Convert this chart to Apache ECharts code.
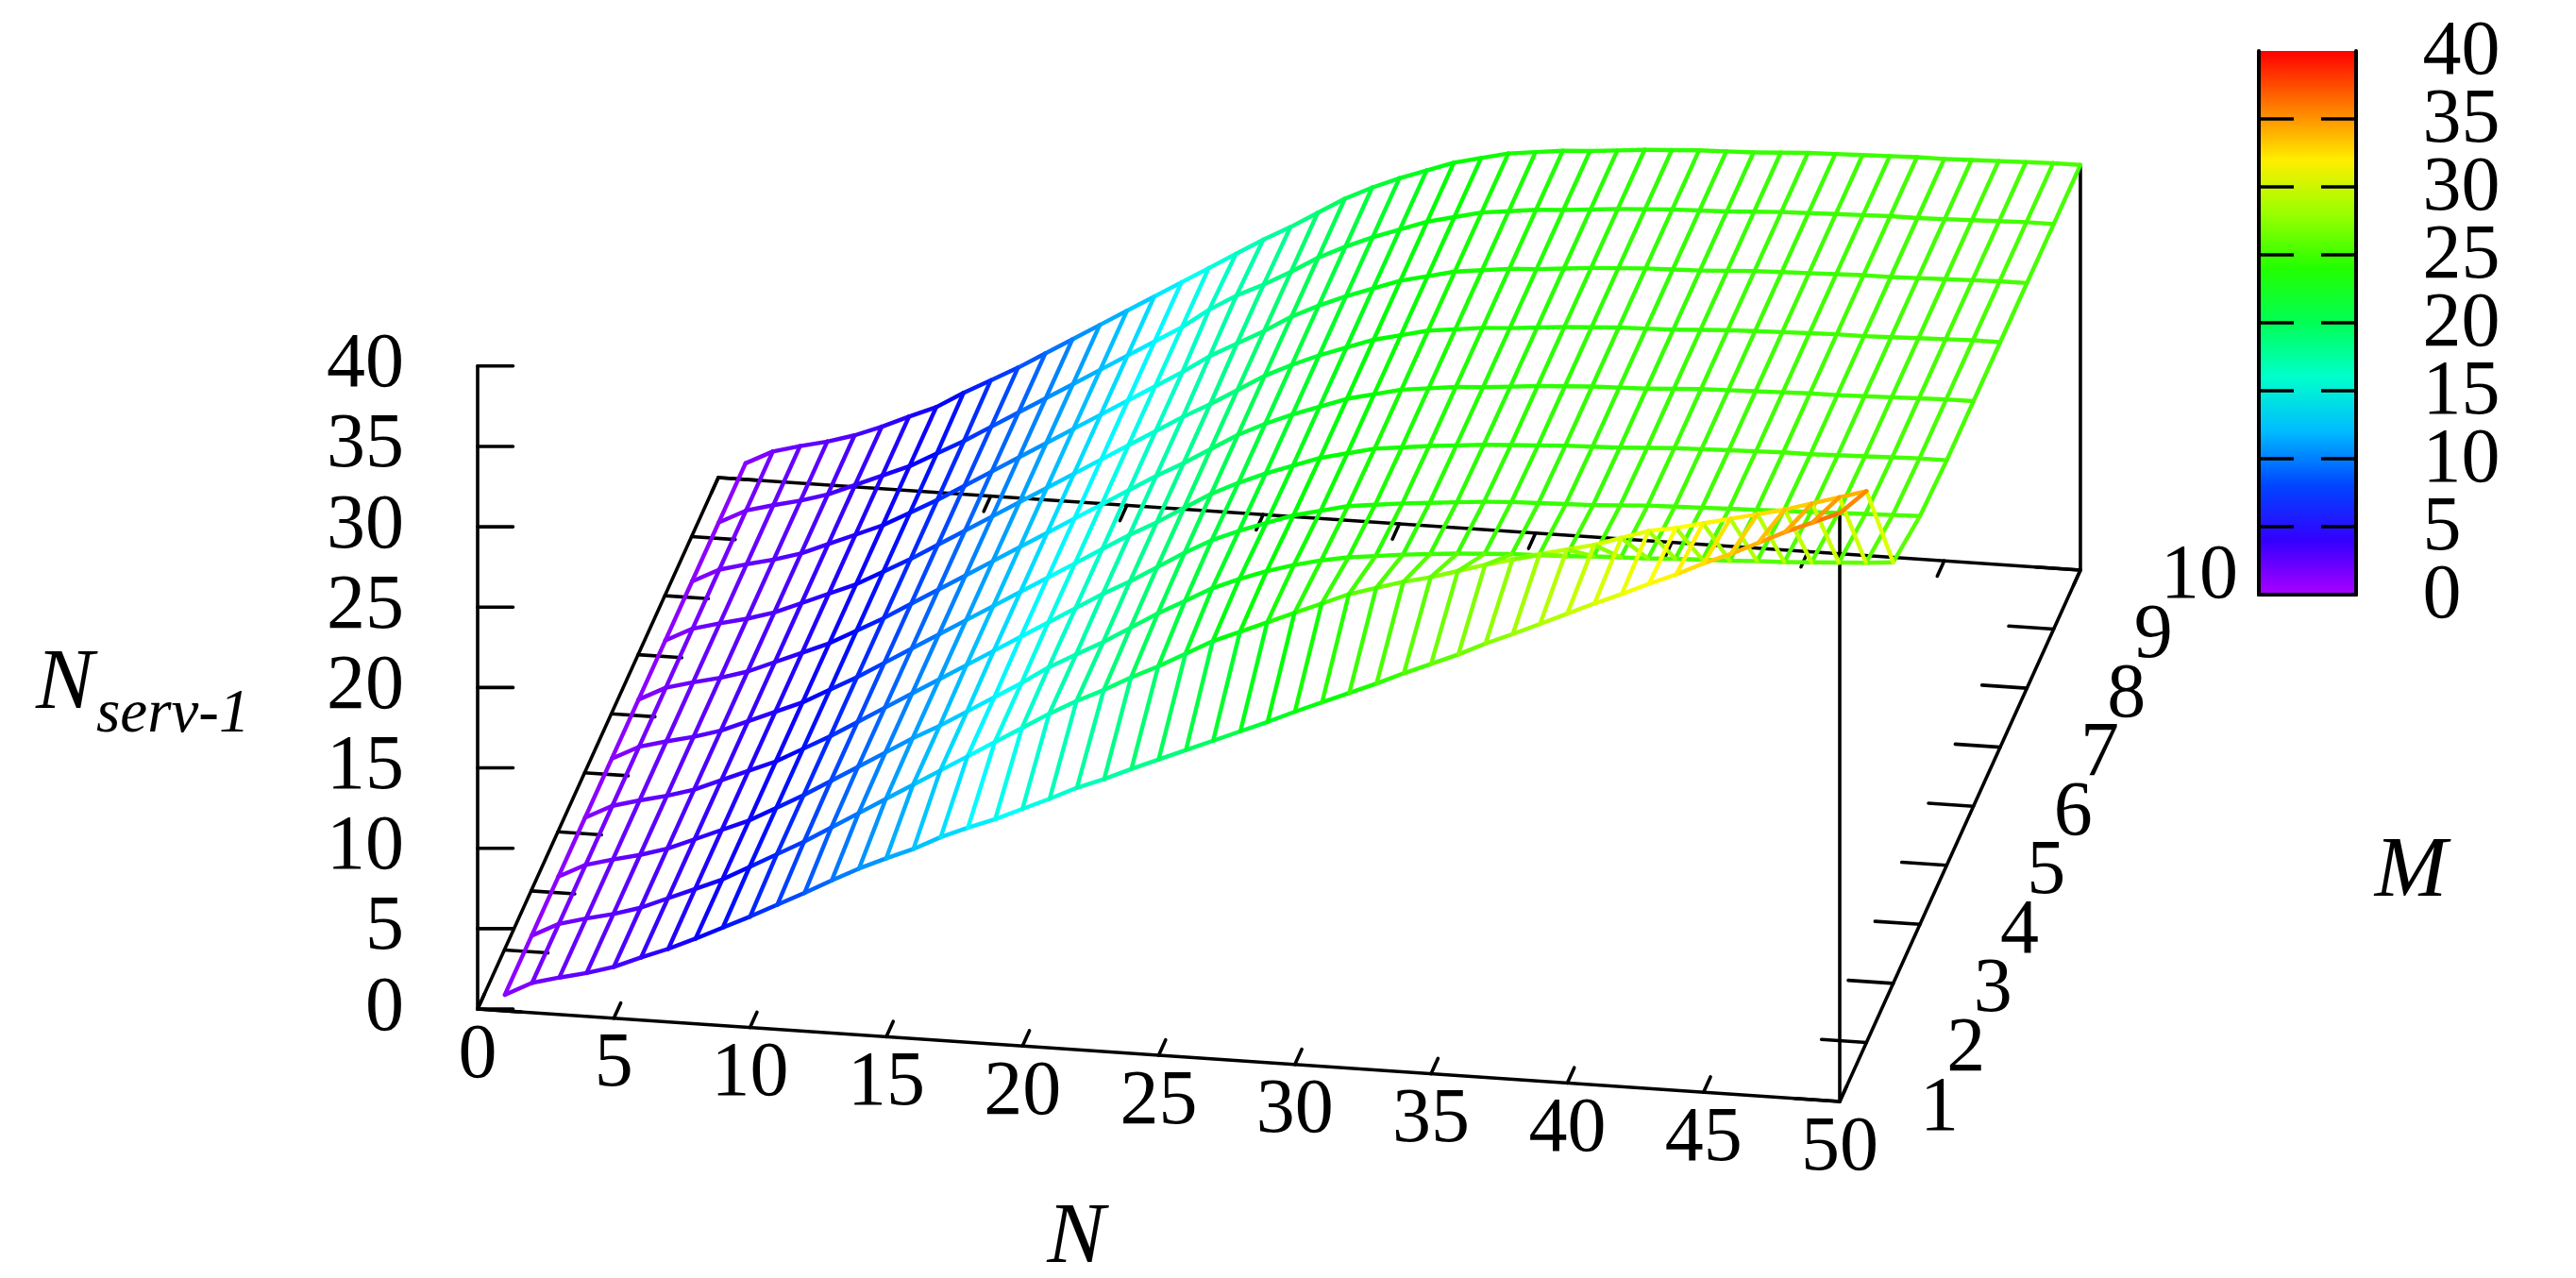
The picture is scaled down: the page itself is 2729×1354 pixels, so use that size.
<!DOCTYPE html>
<html><head><meta charset="utf-8">
<style>html,body{margin:0;padding:0;background:#fff}#c{width:2729px;height:1354px}</style>
<script src="https://cdn.jsdelivr.net/npm/echarts@6/dist/echarts.min.js"></script>
</head><body><div id="c"></div>
<script>
const nTicks = [0,5,10,15,20,25,30,35,40,45,50];
const mTicks = [1,2,3,4,5,6,7,8,9,10];
const zTicks = [0,5,10,15,20,25,30,35,40];
const colorbarTicks = [0,5,10,15,20,25,30,35,40];
const colorbarInnerTicks = [5,10,15,20,25,30,35];
const nValues = [1,2,3,4,5,6,7,8,9,10,11,12,13,14,15,16,17,18,19,20,21,22,23,24,25,26,27,28,29,30,31,32,33,34,35,36,37,38,39,40,41,42,43,44,45,46,47,48,49,50];
const rowM1  = [1.0,1.86,2.3,2.7,3.2,3.9,4.55,5.3,6.1,6.9,7.75,8.6,9.5,10.35,11.1,11.8,12.65,13.35,14.0,14.75,15.5,16.3,16.95,17.7,18.4,19.1,19.8,20.5,21.2,21.95,22.65,23.35,24.05,24.8,25.5,26.2,27.0,27.7,28.45,29.2,29.95,30.65,31.4,32.1,32.9,33.6,34.4,35.2,35.9,36.6];
const rowM2  = [1.0,1.85,2.3,2.7,3.2,3.9,4.6,5.3,6.2,7.1,8.0,9.0,10.0,11.0,12.0,13.0,14.0,15.0,16.0,17.0,17.9,18.7,19.6,20.4,21.3,22.2,22.9,23.6,24.3,25.0,25.7,26.2,26.7,27.1,27.6,28.1,28.55,29.0,29.4,29.8,30.35,30.9,31.2,31.6,32.0,32.4,32.8,33.3,33.8,34.3];
const rowM3  = [1.0,1.85,2.3,2.7,3.2,3.9,4.6,5.3,6.2,7.1,8.1,9.1,10.1,11.1,12.0,13.0,14.0,15.0,16.1,17.0,17.9,18.9,19.9,20.8,21.7,22.4,23.0,23.5,23.9,24.2,24.4,24.6,24.75,24.9,25.0,25.1,25.15,25.2,25.3,25.35,25.4,25.5,25.55,25.6,25.7,25.75,25.85,25.95,26.05,26.2];
const rowM4  = [1.0,1.85,2.3,2.7,3.2,3.9,4.6,5.3,6.2,7.1,8.1,9.1,10.1,11.1,12.1,13.1,14.1,15.1,16.1,17.1,18.0,19.0,20.0,20.9,21.6,22.2,22.8,23.2,23.6,23.8,24.0,24.15,24.3,24.45,24.55,24.6,24.65,24.7,24.8,24.9,24.95,25.0,25.05,25.1,25.15,25.2,25.25,25.3,25.35,25.4];
const rowM5  = [1.0,1.85,2.3,2.7,3.2,3.9,4.6,5.3,6.2,7.1,8.1,9.1,10.1,11.1,12.1,13.1,14.1,15.1,16.1,17.1,18.0,19.0,20.0,20.8,21.5,22.1,22.7,23.1,23.5,23.7,23.9,24.05,24.2,24.3,24.4,24.5,24.55,24.6,24.7,24.8,24.85,24.9,24.95,25.0,25.0,25.05,25.1,25.15,25.2,25.2];
const rowM6  = [1.0,1.85,2.3,2.7,3.2,3.9,4.6,5.3,6.2,7.1,8.1,9.1,10.1,11.1,12.1,13.1,14.1,15.1,16.1,17.1,18.0,19.0,20.0,20.8,21.5,22.1,22.7,23.1,23.5,23.7,23.9,24.0,24.15,24.3,24.4,24.5,24.55,24.6,24.7,24.8,24.85,24.9,24.95,25.0,25.0,25.05,25.1,25.15,25.2,25.2];
const rowM7  = [1.0,1.85,2.3,2.7,3.2,3.9,4.6,5.3,6.2,7.1,8.1,9.1,10.1,11.1,12.1,13.1,14.1,15.1,16.1,17.1,18.0,19.0,20.0,20.8,21.5,22.1,22.7,23.1,23.5,23.7,23.9,24.0,24.15,24.3,24.4,24.5,24.55,24.6,24.7,24.8,24.85,24.9,24.95,25.0,25.0,25.05,25.1,25.15,25.2,25.2];
const rowM8  = [1.0,1.85,2.3,2.7,3.2,3.9,4.6,5.3,6.2,7.1,8.1,9.1,10.1,11.1,12.1,13.1,14.1,15.1,16.1,17.2,18.1,19.0,20.0,20.8,21.5,22.1,22.7,23.1,23.5,23.7,23.9,24.0,24.15,24.3,24.4,24.5,24.55,24.6,24.7,24.8,24.85,24.9,24.95,25.0,25.0,25.05,25.1,25.15,25.2,25.2];
const rowM9  = [1.0,1.85,2.3,2.7,3.2,3.9,4.6,5.3,6.2,7.1,8.1,9.1,10.1,11.1,12.1,13.1,14.1,15.1,16.3,17.3,18.1,19.0,20.0,20.8,21.5,22.1,22.7,23.1,23.5,23.7,23.9,24.0,24.15,24.3,24.4,24.5,24.55,24.6,24.7,24.8,24.85,24.9,24.95,25.0,25.0,25.05,25.1,25.15,25.2,25.2];
const rowM10 = [1.0,1.85,2.3,2.7,3.2,3.85,4.6,5.3,6.3,7.2,8.1,9.1,10.1,11.1,12.1,13.1,14.1,15.1,16.1,17.1,18.0,19.0,20.0,20.8,21.5,22.1,22.7,23.1,23.5,23.7,23.9,24.0,24.15,24.3,24.4,24.5,24.55,24.6,24.7,24.8,24.85,24.9,24.95,25.0,25.0,25.05,25.1,25.15,25.2,25.2];
const rows = [rowM1,rowM2,rowM3,rowM4,rowM5,rowM6,rowM7,rowM8,rowM9,rowM10];

// View projection of the plot box (N, M, z) on the page plane
function project(n, m, z) {
  return [506 + 28.86*n + 28.33*(m-1), 1069 + 1.96*n - 62.56*(m-1) - 17.03*z];
}
function hue2rgb(h){ // h in degrees, full saturation
  const f=(n)=>{const k=(n+h/60)%6;return Math.round(255*(1-Math.max(0,Math.min(k,4-k,1))));};
  return 'rgb('+f(5)+','+f(3)+','+f(1)+')';
}
const zColor = z => hue2rgb(280*(1-z/40));

// mesh segments
const meshData = [];
for (let mi=rows.length-1; mi>=0; mi--) {
  const m = mTicks[mi], row = rows[mi];
  nValues.forEach((n,i)=>{
    if (i<nValues.length-1) meshData.push([n,m,row[i],nValues[i+1],m,row[i+1]]);
    if (mi<rows.length-1) meshData.push([n,m,row[i],n,mTicks[mi+1],rows[mi+1][i]]);
  });
}
// box lines & ticks [n1,m1,z1,n2,m2,z2]
const boxData = [
  [0,1,0,50,1,0],[50,1,0,50,10,0],[0,1,0,0,10,0],[0,10,0,50,10,0],
  [0,1,0,0,1,40],[50,1,0,50,1,rowM1[49]],[50,10,0,50,10,rowM10[49]]
];
nTicks.forEach(n=>{ boxData.push([n,1,0,n,1.26,0]); boxData.push([n,10,0,n,9.74,0]); });
mTicks.forEach(m=>{ boxData.push([0,m,0,1.6,m,0]); boxData.push([50,m,0,48.35,m,0]); });
zTicks.forEach(z=>{ boxData.push([0,1,z,1.3,1,z+0.15]); });

function segItem(color,width){
  return function(params,api){
    const a=api.coord(project(api.value(0),api.value(1),api.value(2)));
    const b=api.coord(project(api.value(3),api.value(4),api.value(5)));
    const c = color || zColor((api.value(2)+api.value(5))/2);
    return {type:'line',shape:{x1:a[0],y1:a[1],x2:b[0],y2:b[1]},
      style:{stroke:c,lineWidth:width,lineCap:'round'}};
  };
}
const FONT='"Liberation Serif","Times New Roman",serif', FS=82, IFS=92;
function labelItem(dx,dy,align){
  return function(params,api){
    const p=api.coord(project(api.value(0),api.value(1),api.value(2)));
    return {type:'text',x:p[0]+dx,y:p[1]+dy,
      style:{text:String(api.value(3)),font:FS+'px '+FONT,fill:'#000',textAlign:align,textVerticalAlign:'middle'}};
  };
}
function colorbarLabel(params,api){
  const p=api.coord([0,api.value(0)]);
  return {type:'text',x:p[0]+122,y:p[1]+2,
    style:{text:String(api.value(0)),font:FS+'px '+FONT,fill:'#000',textAlign:'left',textVerticalAlign:'middle'}};
}
const stops=[];
[0,0.1,0.2,0.3,0.4,0.5,0.6,0.7,0.8,0.9,1].forEach(f=>stops.push({offset:f,color:zColor(40*(1-f))}));

const chart=echarts.init(document.getElementById('c'),null,{renderer:'canvas',width:2729,height:1354});
const ink={color:'#000',width:4};
const cbTick={show:true,inside:true,length:37,customValues:colorbarInnerTicks,lineStyle:{color:'#000',width:3.5}};
chart.setOption({
  animation:false,
  backgroundColor:'#fff',
  grid:[{left:0,top:0,width:2729,height:1354},{left:2393,top:54,width:103,height:576}],
  xAxis:[
    {gridIndex:0,type:'value',min:0,max:2729,show:false},
    {gridIndex:1,type:'category',data:['bar'],position:'bottom',z:10,axisLine:{lineStyle:ink},axisTick:{show:false},axisLabel:{show:false}},
    {gridIndex:1,type:'category',data:['bar'],position:'top',z:10,axisLine:{lineStyle:ink},axisTick:{show:false},axisLabel:{show:false}}
  ],
  yAxis:[
    {gridIndex:0,type:'value',min:0,max:1354,inverse:true,show:false},
    {gridIndex:1,type:'value',min:0,max:40,interval:5,position:'right',z:10,splitLine:{show:false},
     axisLine:{show:true,lineStyle:ink},axisTick:cbTick,axisLabel:{show:false}},
    {gridIndex:1,type:'value',min:0,max:40,interval:5,position:'left',z:10,splitLine:{show:false},
     axisLine:{show:true,lineStyle:ink},axisTick:cbTick,axisLabel:{show:false}}
  ],
  series:[
    {type:'bar',xAxisIndex:1,yAxisIndex:1,data:[colorbarTicks[colorbarTicks.length-1]],barWidth:'100%',silent:true,
     itemStyle:{color:new echarts.graphic.LinearGradient(0,0,0,1,stops)}},
    {type:'custom',coordinateSystem:'cartesian2d',xAxisIndex:1,yAxisIndex:1,silent:true,z:4,
     renderItem:colorbarLabel,data:colorbarTicks.map(t=>[t]),encode:{y:0}},
    {type:'custom',coordinateSystem:'cartesian2d',xAxisIndex:0,yAxisIndex:0,silent:true,z:2,
     renderItem:segItem('#000',3.6),data:boxData,encode:{x:0,y:1}},
    {type:'custom',coordinateSystem:'cartesian2d',xAxisIndex:0,yAxisIndex:0,silent:true,z:3,
     renderItem:segItem(null,4.4),data:meshData,encode:{x:0,y:1}},
    {type:'custom',coordinateSystem:'cartesian2d',xAxisIndex:0,yAxisIndex:0,silent:true,z:4,
     renderItem:labelItem(-78,0,'right'),data:zTicks.map(z=>[0,1,z,z]),encode:{x:0,y:1}},
    {type:'custom',coordinateSystem:'cartesian2d',xAxisIndex:0,yAxisIndex:0,silent:true,z:4,
     renderItem:labelItem(0,50,'center'),data:nTicks.map(n=>[n,1,0,n]),encode:{x:0,y:1}},
    {type:'custom',coordinateSystem:'cartesian2d',xAxisIndex:0,yAxisIndex:0,silent:true,z:4,
     renderItem:labelItem(85,8,'left'),data:mTicks.map(m=>[50,m,0,m]),encode:{x:0,y:1}}
  ],
  graphic:[
    {type:'text',x:38,y:726,style:{text:'N',font:'italic '+IFS+'px '+FONT,fill:'#000',textVerticalAlign:'middle'}},
    {type:'text',x:102,y:758,style:{text:'serv-1',font:'italic 65px '+FONT,fill:'#000',textVerticalAlign:'middle'}},
    {type:'text',x:1140,y:1313,style:{text:'N',font:'italic '+IFS+'px '+FONT,fill:'#000',textAlign:'center',textVerticalAlign:'middle'}},
    {type:'text',x:2554,y:925,style:{text:'M',font:'italic '+IFS+'px '+FONT,fill:'#000',textAlign:'center',textVerticalAlign:'middle'}}
  ]
});
</script></body></html>
